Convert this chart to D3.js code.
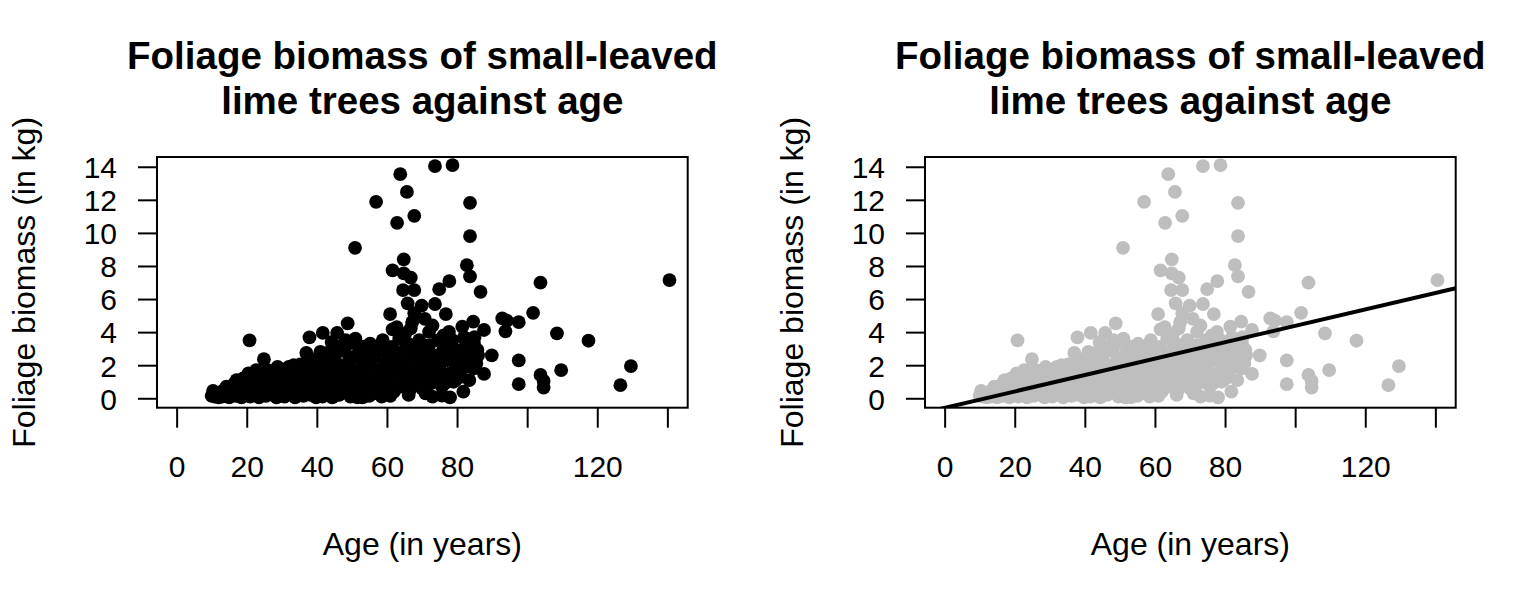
<!DOCTYPE html>
<html>
<head>
<meta charset="UTF-8">
<title>Foliage biomass of small-leaved lime trees against age</title>
<script src="https://cdn.jsdelivr.net/npm/d3@7"></script>
<style>
  body { margin: 0; background: #fff; }
  svg { display: block; font-family: "Liberation Sans", Arial, Helvetica, sans-serif; }
  .axis path, .axis line { stroke: #000; stroke-width: 2; }
  .axis text { fill: #000; }
</style>
</head>
<body>
<script>

  // Tree ages (years) and foliage biomass (kg), pairwise
  let ageYears = [
    63.8, 73.7, 78.7, 65.7, 56.9, 83.7, 67.8, 62.9, 83.7, 50.9,
    64.8, 61.6, 64.8, 66.8, 82.8, 83.7, 77.8, 74.9, 67.8, 64.6,
    86.7, 65.9, 69.9, 73.7, 103.8, 140.6, 67.8, 76.8, 60.9, 92.9,
    94.2, 97.6, 101.7, 93.8, 108.5, 117.5, 129.6, 126.6, 97.6, 97.6,
    103.8, 104.7, 104.7, 109.7, 89.9, 87.7, 84.6, 81.5, 77.7, 78.7,
    82.5, 84.8, 85.8, 84.8, 87.7, 79.6, 79.6, 75.7, 75.7, 81.8,
    48.8, 45.8, 61.6, 66.8, 72, 50.7, 58.8, 69.2, 74.9, 20.8,
    24.9, 37.9, 41.7, 37, 41.9, 17.1, 14.2, 10.4, 10.9, 10,
    48.2, 53.4, 84.2, 68.5, 64.7, 58.1, 53.4, 58.5, 61, 66.2,
    71, 73, 78, 11.5, 12, 12.5, 13, 13.5, 14, 15,
    15.5, 16, 16.5, 17, 18, 18.5, 19, 19.5, 20, 20.5,
    21, 21.5, 22, 22.5, 23, 23.5, 24, 24.5, 25, 25.5,
    26, 26.5, 27, 27.5, 28, 28.5, 29, 29.5, 30, 30.5,
    21.2, 23.8, 26.2, 28.8, 22.7,
    30.8, 31.2, 31.7, 32, 32.5, 33, 33.4, 33.8, 34.2, 34.6,
    35, 35.4, 35.8, 36.2, 36.6, 37, 37.4, 37.8, 38.2, 38.6,
    39, 39.4, 39.8, 40, 31.5, 34, 36.8, 38.9, 32.8, 35.3,
    40.4, 40.8, 41.2, 41.6, 42, 42.4, 42.8, 43.2, 43.6, 44,
    44.4, 44.8, 45.2, 45.6, 46, 46.4, 46.8, 47.2, 47.6, 48,
    48.4, 48.8, 49.2, 49.6, 50, 43, 46.2, 44.2, 41, 49,
    47, 45,
    50.4, 50.8, 51.2, 51.6, 52, 52.4, 52.8, 53.2, 53.6, 54,
    54.4, 54.8, 55.2, 55.6, 56, 56.4, 56.8, 57.2, 57.6, 58,
    58.4, 58.8, 59.2, 59.6, 60, 51, 53, 55,
    60.5, 61, 61.5, 62, 62.5, 63, 63.5, 64, 64.5, 65,
    65.5, 66, 66.5, 67, 67.5, 68, 68.5, 69, 69.5, 70,
    62.8, 65.2, 67.2, 63.2, 69.3, 60.2, 64.2, 66.3, 61.2,
    70.5, 71, 71.5, 72, 72.5, 73, 73.5, 74, 74.5, 75,
    75.5, 76, 76.5, 77, 77.5, 78, 78.5, 79, 80, 80.5,
    76.2, 73, 70.8,
    81, 81.5, 82, 82.5, 83, 83.5, 84, 85, 85.5, 86
  ];

  let foliageKg = [
    13.55, 14.04, 14.1, 12.48, 11.88, 11.82, 11.03, 10.61, 9.81, 9.1,
    8.4, 7.73, 7.55, 7.29, 8.05, 7.37, 7.09, 6.6, 6.54, 6.54,
    6.44, 5.74, 5.6, 5.7, 6.99, 7.15, 5.14, 5.09, 5.09, 4.83,
    4.7, 4.6, 5.17, 4.05, 3.93, 3.48, 1.95, 0.79, 2.29, 0.85,
    1.41, 1.05, 0.65, 1.7, 2.6, 4.13, 4.63, 4.33, 4.02, 3.52,
    3.42, 3.32, 2.92, 1.81, 1.47, 2.01, 1.1, 0.7, 0.16, 0.4,
    4.53, 3.95, 4.17, 4.23, 4.02, 3.52, 3.52, 3.52, 2.21, 3.5,
    2.36, 3.68, 3.95, 2.74, 2.6, 1.1, 0.7, 0.45, 0.1, 0.15,
    3.52, 3.12, 2.72, 1.51, 1.31, 1.71, 0.1, 0.1, 0.15, 0.2,
    0.3, 0.1, 0.05, 0.2, 0.05, 0.35, 0.1, 0.5, 0.25, 0.05,
    0.6, 0.3, 0.9, 0.15, 0.55, 0.05, 1.2, 0.35, 0.8, 1.5,
    0.1, 0.6, 1.1, 0.3, 1.6, 0.05, 0.9, 1.4, 0.4, 0.15,
    1.7, 0.7, 1.2, 0.2, 1.55, 0.05, 0.9, 0.45, 1.75, 1.2,
    1.3, 0.6, 0.95, 1.9, 1.7,
    0.1, 0.6, 1.5, 1.9, 0.3, 1.05, 2.0, 0.05, 0.8, 1.6,
    1.2, 0.4, 1.85, 0.15, 1.0, 0.55, 1.4, 2.05, 0.2, 1.1,
    0.7, 1.7, 0.05, 2.4, 0.35, 1.3, 0.3, 1.95, 1.6, 2.05,
    0.4, 1.2, 1.8, 0.1, 2.3, 0.8, 1.5, 0.3, 2.1, 1.0,
    0.05, 1.7, 2.6, 0.6, 1.3, 0.2, 2.0, 0.9, 1.6, 2.85,
    0.4, 1.15, 2.3, 0.1, 1.8, 2.75, 3.1, 3.4, 2.8, 3.3,
    0.5, 0.15,
    0.6, 2.5, 1.2, 0.05, 3.0, 1.7, 0.35, 2.2, 0.9, 2.8,
    1.4, 0.2, 3.3, 1.9, 0.7, 2.5, 1.1, 0.3, 2.9, 1.6,
    3.2, 0.5, 2.1, 1.0, 2.7, 3.6, 0.05, 0.15,
    0.8, 1.9, 3.1, 0.4, 2.4, 1.3, 3.6, 0.7, 2.0, 2.9,
    1.0, 3.3, 0.5, 2.3, 1.6, 3.0, 0.9, 2.6, 1.9, 0.6,
    4.3, 3.9, 4.6, 2.7, 3.4, 1.4, 1.6, 2.6, 2.6,
    2.8, 1.3, 2.2, 3.2, 0.9, 1.8, 2.6, 1.2, 3.5, 1.9,
    1.4, 2.9, 0.9, 2.3, 3.3, 1.5, 2.6, 1.0, 2.9, 1.8,
    3.8, 4.4, 4.8,
    1.3, 2.5, 3.7, 1.9, 2.9, 1.1, 2.4, 3.7, 2.1, 2.6
  ];

  // Axis ticks (R leaves 100 and 140 unlabelled)
  let xTicks = [0, 20, 40, 60, 80, 100, 120, 140];
  let xTickLabels = ["0", "20", "40", "60", "80", "", "120", ""];
  let yTicks = [0, 2, 4, 6, 8, 10, 12, 14];

  // Fitted straight line: intercept, slope
  let fitCoef = [-0.58, 0.0496];

  let titleLines = ["Foliage biomass of small-leaved", "lime trees against age"];
  let xLabel = "Age (in years)";
  let yLabel = "Foliage biomass (in kg)";

  let trees = ageYears.map(function(a, i) { return { age: a, foliage: foliageKg[i] }; });

  // Layout
  let box = { left: 157, right: 687.7, top: 157, bottom: 407.7 };
  let xDomain = [-5.6, 145.8];
  let yDomain = [-0.57, 14.59];

  let svg = d3.select("body").append("svg")
    .attr("width", 1536)
    .attr("height", 604);

  function drawPanel(dx, id, dotColor, showFit) {
    let g = svg.append("g").attr("transform", "translate(" + dx + ",0)");

    let x = d3.scaleLinear().domain(xDomain).range([box.left, box.right]);
    let y = d3.scaleLinear().domain(yDomain).range([box.bottom, box.top]);

    // points
    g.append("g").selectAll("circle")
      .data(trees)
      .enter().append("circle")
        .attr("cx", function(d) { return x(d.age); })
        .attr("cy", function(d) { return y(d.foliage); })
        .attr("r", 6.9)
        .attr("fill", dotColor);

    // fitted line, clipped to the plot box
    if (showFit) {
      g.append("clipPath").attr("id", "clip" + id)
        .append("rect")
          .attr("x", box.left).attr("y", box.top)
          .attr("width", box.right - box.left).attr("height", box.bottom - box.top);
      let line = d3.line()
        .x(function(d) { return x(d); })
        .y(function(d) { return y(fitCoef[0] + fitCoef[1] * d); });
      g.append("path")
        .attr("d", line(xDomain))
        .attr("clip-path", "url(#clip" + id + ")")
        .attr("fill", "none")
        .attr("stroke", "#000")
        .attr("stroke-width", 4);
    }

    // axes
    let xAxis = d3.axisBottom(x)
      .tickValues(xTicks)
      .tickFormat(function(d, i) { return xTickLabels[i]; })
      .tickSizeInner(20).tickSizeOuter(0).tickPadding(28);
    let gx = g.append("g")
      .attr("class", "axis")
      .attr("transform", "translate(0," + box.bottom + ")")
      .call(xAxis);
    gx.select(".domain").remove();
    gx.selectAll("text").attr("font-size", 30).attr("font-family", null);

    let yAxis = d3.axisLeft(y)
      .tickValues(yTicks)
      .tickSizeInner(19).tickSizeOuter(0).tickPadding(21);
    let gy = g.append("g")
      .attr("class", "axis")
      .attr("transform", "translate(" + box.left + ",0)")
      .call(yAxis);
    gy.select(".domain").remove();
    gy.selectAll("text").attr("font-size", 30).attr("dy", "0.36em").attr("font-family", null);

    // box
    g.append("rect")
      .attr("x", box.left).attr("y", box.top)
      .attr("width", box.right - box.left).attr("height", box.bottom - box.top)
      .attr("fill", "none").attr("stroke", "#000").attr("stroke-width", 2);

    // title
    let cx = (box.left + box.right) / 2;
    g.selectAll(".title")
      .data(titleLines)
      .enter().append("text")
        .attr("class", "title")
        .attr("x", cx)
        .attr("y", function(d, i) { return 69 + i * 45; })
        .attr("text-anchor", "middle")
        .attr("font-size", 38.5)
        .attr("font-weight", "bold")
        .text(function(d) { return d; });

    // axis labels
    g.append("text")
      .attr("x", cx).attr("y", 555)
      .attr("text-anchor", "middle")
      .attr("font-size", 32)
      .text(xLabel);

    g.append("text")
      .attr("transform", "translate(35," + (box.top + box.bottom) / 2 + ") rotate(-90)")
      .attr("text-anchor", "middle")
      .attr("font-size", 32)
      .text(yLabel);
  }

  drawPanel(0, "a", "#000", false);
  drawPanel(768, "b", "#bebebe", true);

</script>
</body>
</html>
